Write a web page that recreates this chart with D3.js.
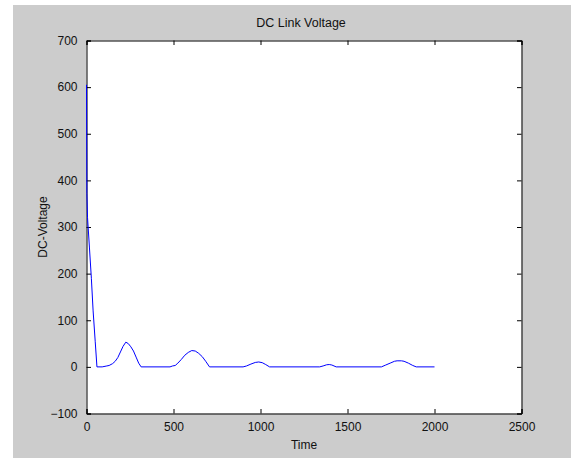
<!DOCTYPE html>
<html>
<head>
<meta charset="utf-8">
<script src="https://cdn.jsdelivr.net/npm/d3@7"></script>
<style>
html,body{margin:0;padding:0;background:#fff;}
svg{display:block;}
text{font-family:"Liberation Sans",Arial,sans-serif;fill:#111;}
</style>
</head>
<body>
<svg id="chart" width="571" height="458"></svg>
<script>
// ---- data ----
const titleText = "DC Link Voltage";
const xLabel = "Time";
const yLabel = "DC-Voltage";
const xTicks = [0, 500, 1000, 1500, 2000, 2500];
const yTicks = [-100, 0, 100, 200, 300, 400, 500, 600, 700];
const time = [0, 2, 6, 17, 28, 38, 50, 60, 90, 117, 130, 150, 165, 180, 195, 210, 226, 240, 255, 270, 285, 300, 314,
  480, 495, 510, 525, 545, 565, 585, 605, 625, 645, 665, 685, 707,
  900, 920, 945, 970, 990, 1010, 1030, 1052,
  1340, 1360, 1380, 1395, 1410, 1435,
  1695, 1720, 1745, 1770, 1785, 1810, 1825, 1850, 1875, 1895, 2000];
const voltage = [605, 372, 320, 255, 190, 120, 55, 0, 0, 2, 3, 7, 12, 20, 32, 44, 53, 50, 43, 34, 21, 8, 0,
  0, 2, 3, 8, 16, 25, 31, 35, 34, 29, 22, 12, 0,
  0, 2, 6, 9.5, 10.5, 9, 5, 0,
  0, 2, 4.5, 5, 4, 0,
  0, 4, 8, 12, 13, 13, 12, 8, 3, 0, 0];

// ---- layout ----
const svg = d3.select("#chart");
const L = 86.5, R = 521.5, T = 40.5, B = 413.5;

svg.append("rect").attr("x", 13).attr("y", 5).attr("width", 571 - 13).attr("height", 458 - 5).attr("fill", "#cccccc");
svg.append("rect").attr("x", L).attr("y", T).attr("width", R - L).attr("height", B - T).attr("fill", "#fff");

const x = d3.scaleLinear().domain([0, 2500]).range([L, R]);
const y = d3.scaleLinear().domain([-100, 700]).range([B, T]);

const tickLen = 4.5;
const fs = 12;

// bottom axis
const gx = svg.append("g").attr("transform", `translate(0,${B})`)
  .call(d3.axisBottom(x).tickValues(xTicks).tickFormat(d3.format("d")).tickSize(-tickLen).tickPadding(9));
// top mirror
const gxt = svg.append("g").attr("transform", `translate(0,${T})`)
  .call(d3.axisTop(x).tickValues(xTicks).tickFormat("").tickSize(-tickLen));
// left axis
const gy = svg.append("g").attr("transform", `translate(${L},0)`)
  .call(d3.axisLeft(y).tickValues(yTicks).tickFormat(d3.format("d")).tickSize(-tickLen).tickPadding(9));
// right mirror
const gyr = svg.append("g").attr("transform", `translate(${R},0)`)
  .call(d3.axisRight(y).tickValues(yTicks).tickFormat("").tickSize(-tickLen));

[gx, gxt, gy, gyr].forEach(g => {
  g.select(".domain").attr("stroke", "#000").attr("stroke-width", 1);
  g.selectAll(".tick line").attr("stroke", "#000").attr("stroke-width", 1);
  g.selectAll(".tick text").attr("font-size", fs).attr("font-family", "Liberation Sans, Arial, sans-serif").attr("fill", "#111");
});
gx.selectAll(".tick text").attr("dy", "0.71em");

// line
const line = d3.line().x((d, i) => x(time[i])).y(d => y(d));
svg.append("path").datum(voltage).attr("d", line)
  .attr("fill", "none").attr("stroke", "#0000ff").attr("stroke-width", 1);

// redraw left axis domain on top so start of line looks like reference
// titles
svg.append("text").attr("x", (L + R) / 2 - 3).attr("y", 27).attr("text-anchor", "middle")
  .attr("font-size", 12.5).text(titleText);
svg.append("text").attr("x", (L + R) / 2).attr("y", 449).attr("text-anchor", "middle")
  .attr("font-size", fs).text(xLabel);
svg.append("text").attr("transform", `translate(47,${(T + B) / 2}) rotate(-90)`).attr("text-anchor", "middle")
  .attr("font-size", fs).text(yLabel);
</script>
</body>
</html>
